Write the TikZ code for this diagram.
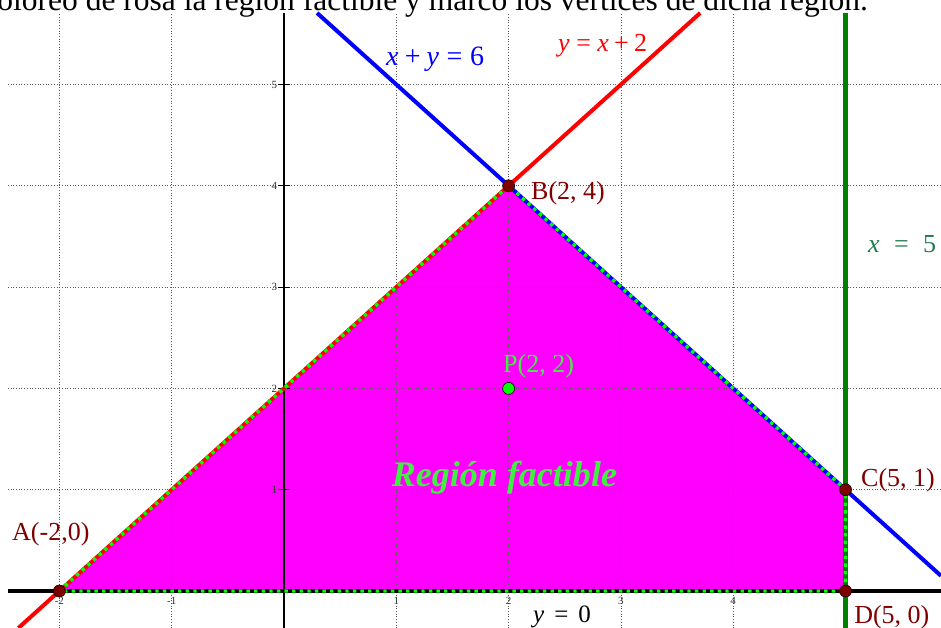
\documentclass[tikz,border=0pt]{standalone}
\usepackage{fontspec}
\setmainfont{Liberation Serif}
\usepackage{tikz}
\usetikzlibrary{arrows.meta,positioning,calc}
\definecolor{regionMagenta}{HTML}{FF00FF}
\definecolor{lineRed}{HTML}{FF0000}
\definecolor{lineBlue}{HTML}{0000FF}
\definecolor{lineGreen}{HTML}{008000}
\definecolor{dotLime}{HTML}{00FF00}
\definecolor{vertexMaroon}{HTML}{800000}
\definecolor{labelTeal}{HTML}{1E7B4A}
\definecolor{labelLime}{HTML}{40F040}
\definecolor{tickGray}{HTML}{303030}

\begin{document}
\begin{tikzpicture}[
    x=112.3pt,y=101.3pt,
    every node/.style={inner sep=0pt},
    gridline/.style={draw=black!65,dotted,line width=0.7pt},
    axisline/.style={draw=black,line width=3.2pt},
    constraint/.style={line width=4pt},
    regionborder/.style={draw=dotLime,line width=3.4pt,dash pattern=on 3.4pt off 4.2pt},
    vertex/.style={circle,fill=vertexMaroon,draw=black,line width=0.6pt,minimum size=12pt},
    vlabel/.style={text=vertexMaroon,font=\fontsize{26}{28}\selectfont},
    ticklabel/.style={text=tickGray,font=\fontsize{11}{12}\selectfont}
  ]
  \useasboundingbox (-2.529,-0.365) rectangle (5.850,5.834);
  %% Vertices of the feasible region
  \coordinate (A) at (-2,0);
  \coordinate (B) at (2,4);
  \coordinate (C) at (5,1);
  \coordinate (D) at (5,0);
  \coordinate (P) at (2,2);
  %% Feasible region
  \fill[regionMagenta] (A) -- (B) -- (C) -- (D) -- cycle;
  %% Grid
  \foreach \gx in {-2,-1,1,2,3,4}
    \draw[gridline] (\gx,-0.365) -- (\gx,5.706);
  \foreach \gy in {1,...,5}
    \draw[gridline] (-2.458,\gy) -- (5.850,\gy);
  %% Axes and ticks
  \draw[axisline] (-2.458,0) -- (5.850,0);
  \draw[draw=black,line width=2.4pt] (0,-0.365) -- (0,5.706);
  \foreach \gy in {1,...,5}{
    \draw[black,line width=0.8pt] (-0.05,\gy) -- (0.05,\gy);
    \node[ticklabel,anchor=east] at (-0.06,\gy) {\gy};
  }
  \foreach \gx in {-2,-1,1,2,3,4}
    \node[ticklabel,anchor=north] at (\gx,-0.06) {\gx};
  %% Constraint lines
  \coordinate (xfiveBot) at (5,-0.365);
  \coordinate (xfiveTop) at (5,5.706);
  \coordinate (redBot) at (-2.365,-0.365);
  \coordinate (redTop) at (3.706,5.706);
  \coordinate (blueTop) at (0.294,5.706);
  \coordinate (blueEnd) at (5.850,0.150);
  \draw[constraint,lineGreen,line width=4.4pt] (xfiveBot) -- (xfiveTop);
  \draw[constraint,lineRed] (redBot) -- (redTop);
  \draw[constraint,lineBlue] (blueTop) -- (blueEnd);
  %% Dotted border of the region
  \draw[regionborder] (A) -- (B) -- (C) -- (D) -- cycle;
  %% Points
  \node[vertex] (nA) at (A) {};
  \node[vertex] (nB) at (B) {};
  \node[vertex] (nC) at (C) {};
  \node[vertex] (nD) at (D) {};
  \node[vertex,fill=dotLime] (nP) at (P) {};
  %% Labels
  \node[font=\fontsize{31.5}{34}\selectfont,anchor=base east] (title) at (5.200,5.726)
    {Coloreo de rosa la región factible y marco los vértices de dicha región.};
  \node[vlabel,anchor=base west] (labA) at (-2.422,0.503) {A(-2,0)};
  \node[vlabel,anchor=base west] (labB) at (2.199,3.860) {B(2, 4)};
  \node[vlabel,anchor=base west] (labC) at (5.138,1.027) {C(5, 1)};
  \node[vlabel,anchor=base west] (labD) at (5.076,-0.316) {D(5, 0)};
  \node[vlabel,text=labelLime,anchor=base west] (labP) at (1.950,2.152) {P(2, 2)};
  \node[text=labelLime,font=\fontsize{36}{38}\selectfont\bfseries\itshape,anchor=base] (labRegion)
    at (1.963,1.027) {Región factible};
  \node[text=labelTeal,font=\fontsize{26}{28}\selectfont,anchor=base west] (labXfive)
    at (5.200,3.337) {\textit{x}\hspace{0.55em}=\hspace{0.55em}5};
  \node[font=\fontsize{25}{27}\selectfont,anchor=base west] (labYzero)
    at (2.217,-0.306) {\textit{y}\hspace{0.4em}=\hspace{0.4em}0};
  \node[text=lineBlue,font=\fontsize{28}{30}\selectfont,anchor=base west] (labBlue)
    at (0.908,5.192) {\textit{x}\hspace{0.22em}+\hspace{0.22em}\textit{y}\hspace{0.27em}=\hspace{0.27em}6};
  \node[text=lineRed,font=\fontsize{26}{28}\selectfont,anchor=base west] (labRed)
    at (2.440,5.321) {\textit{y}\hspace{0.25em}=\hspace{0.25em}\textit{x}\hspace{0.2em}+\hspace{0.2em}2};
\end{tikzpicture}
\end{document}
